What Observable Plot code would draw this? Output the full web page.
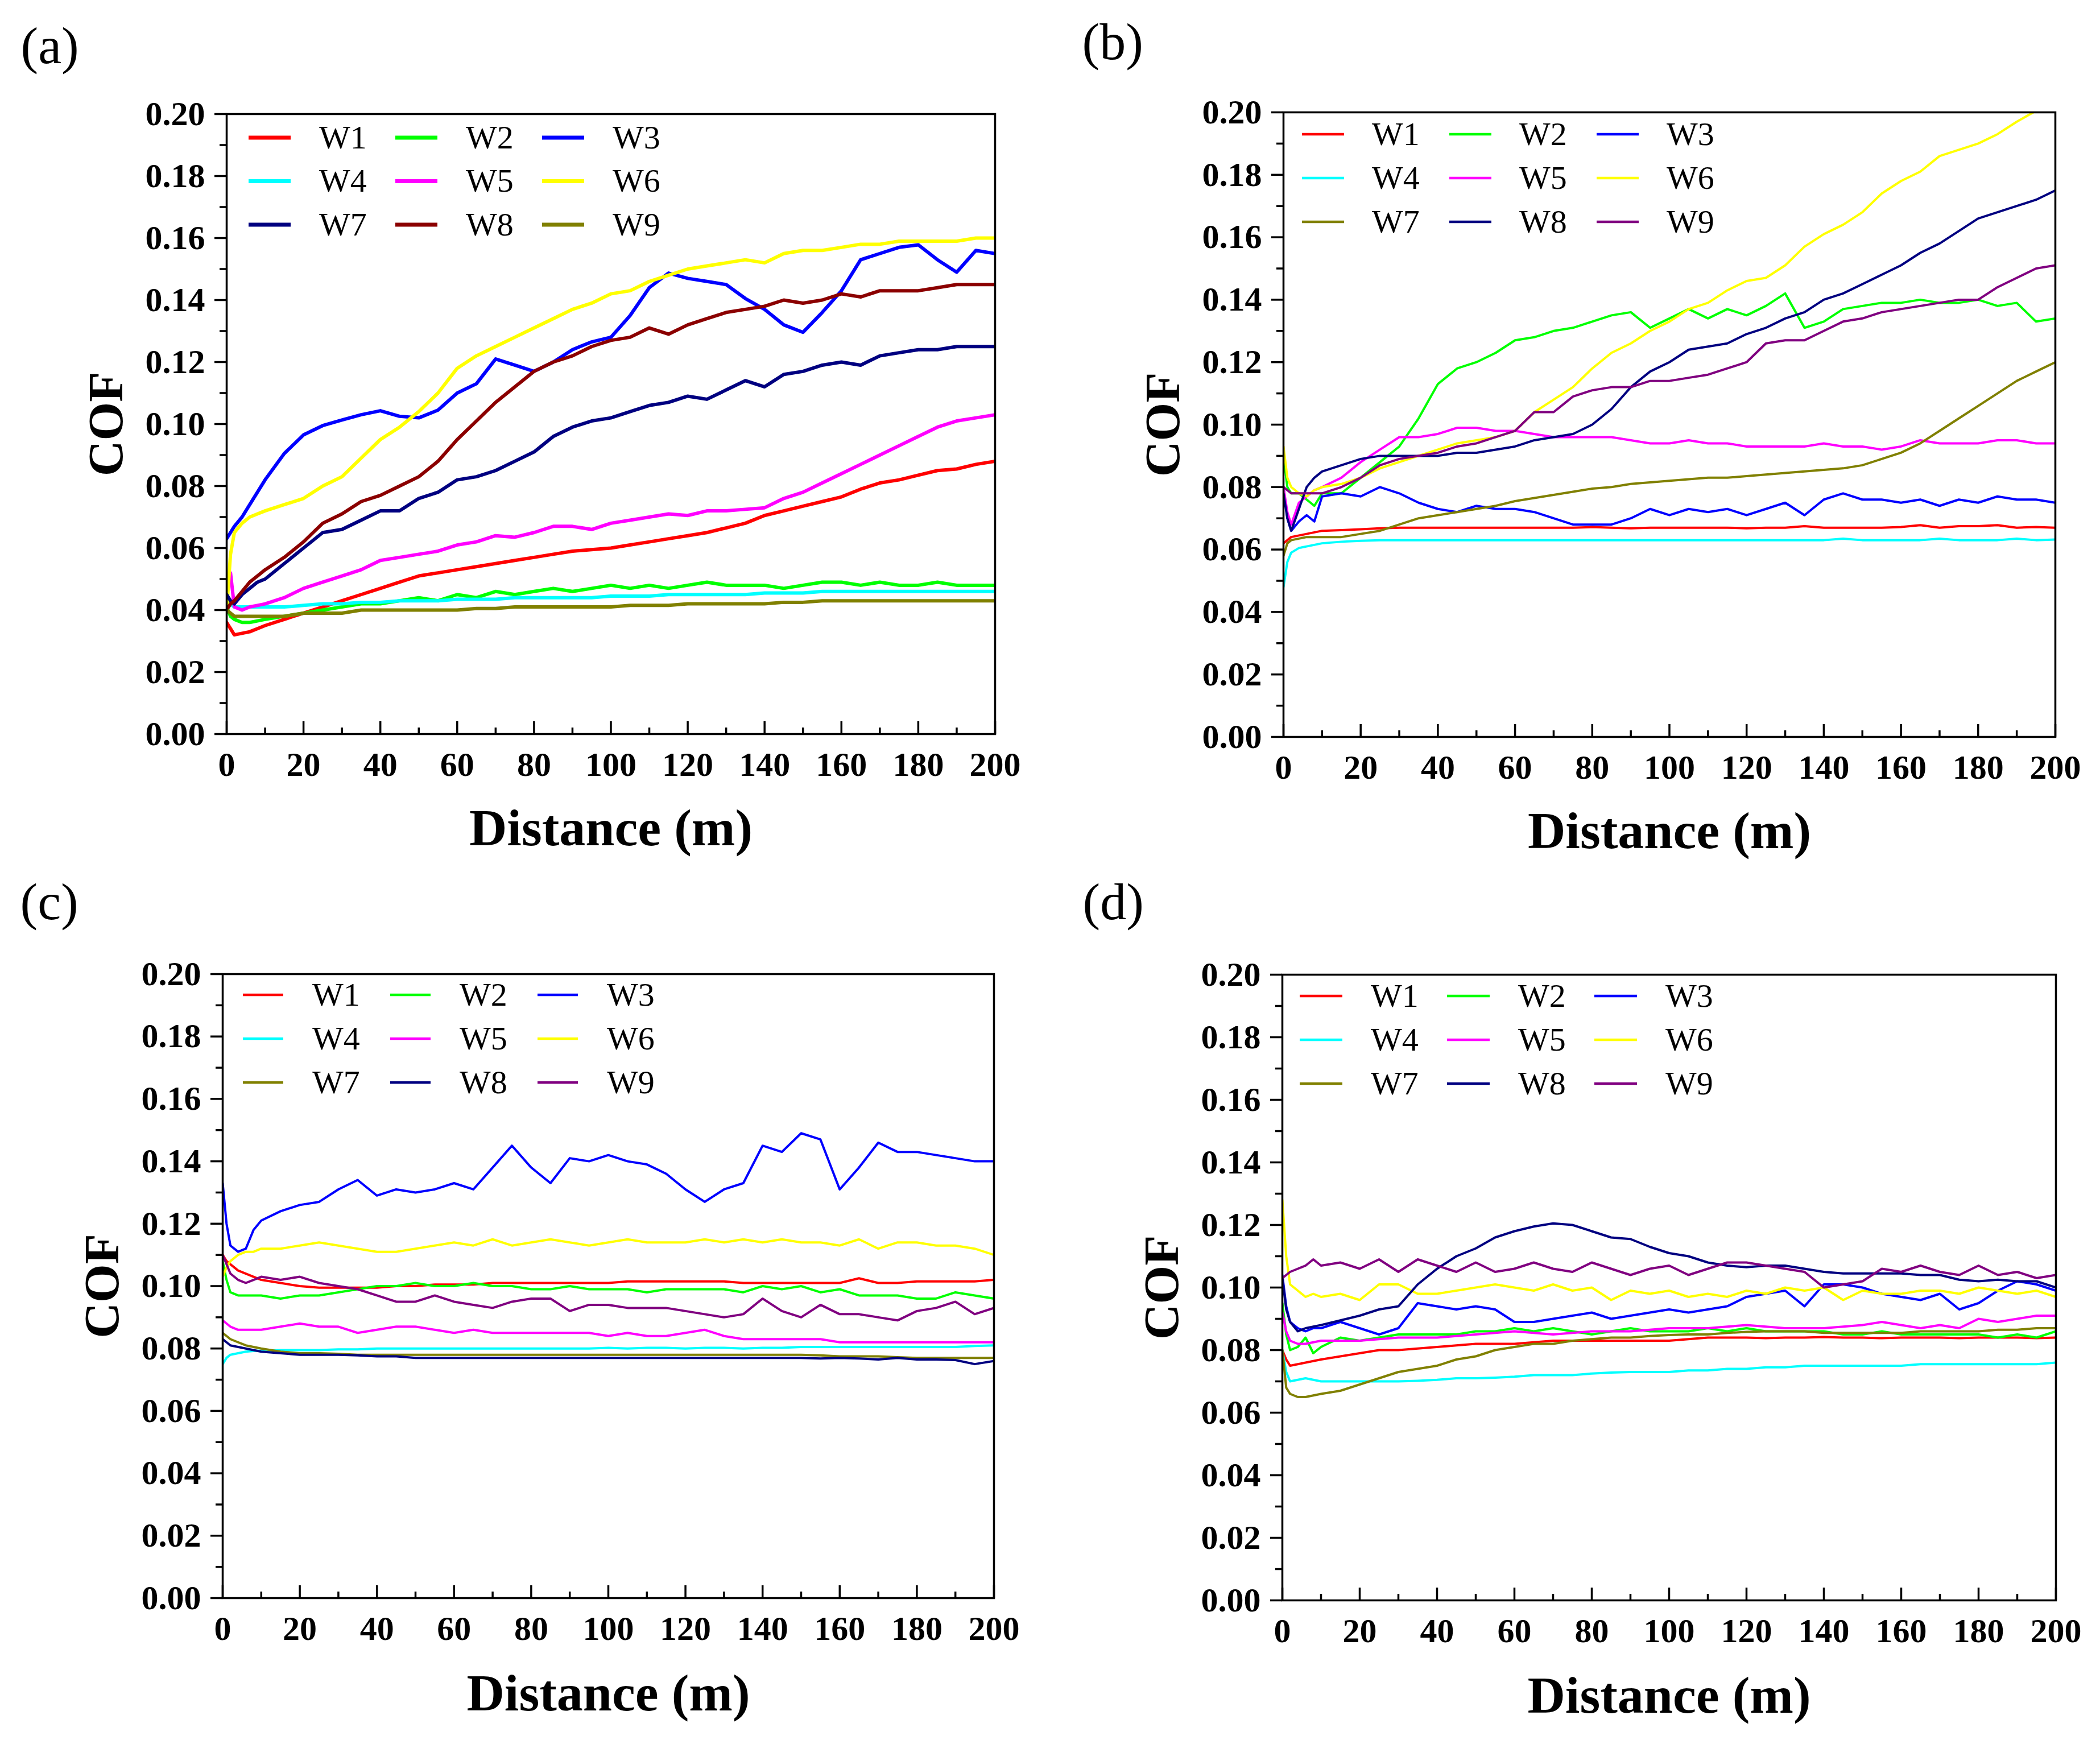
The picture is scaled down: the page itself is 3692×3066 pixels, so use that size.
<!DOCTYPE html>
<html>
<head>
<meta charset="utf-8">
<script src="https://cdn.jsdelivr.net/npm/d3@7"></script>
<script src="https://cdn.jsdelivr.net/npm/@observablehq/plot@0.6"></script>
<style>
  html, body { margin: 0; padding: 0; background: #fff; }
  body { width: 3692px; height: 3066px; position: relative; overflow: hidden; }
  .panel { position: absolute; }
</style>
</head>
<body>
<script>
// ---------------- data ----------------
const distance = [0,1,2,4,6,8,10,
  15,20,25,30,35,40,45,50,55,60,
  65,70,75,80,85,90,95,100,105,110,
  115,120,125,130,135,140,145,150,155,160,
  165,170,175,180,185,190,195,200];
const seriesNames = ["W1","W2","W3","W4","W5","W6","W7","W8","W9"];
const panelLabels = ["(a)","(b)","(c)","(d)"];
const xTitle = "Distance (m)";
const yTitle = "COF";
const yTicksMajor = [0,0.02,0.04,0.06,0.08,0.10,0.12,0.14,0.16,0.18,0.20];
const yTicksMinor = [0.01,0.03,0.05,0.07,0.09,0.11,0.13,0.15,0.17,0.19];
const xTicksMajor = [0,20,40,60,80,100,120,140,160,180,200];
const xTicksMinor = [10,30,50,70,90,110,130,150,170,190];
const coloursA = ["#ff0000","#00ff00","#0000ff","#00ffff","#ff00ff","#ffff00","#000080","#8b0000","#808000"];
const coloursBCD = ["#ff0000","#00ff00","#0000ff","#00ffff","#ff00ff","#ffff00","#808000","#000080","#800080"];

// panel (a)
const cofA_W1 = [0.036,0.034,0.032,0.0325,0.033,0.034,0.035,
  0.037,0.039,0.041,0.043,0.045,0.047,0.049,0.051,0.052,0.053,
  0.054,0.055,0.056,0.057,0.058,0.059,0.0595,0.060,0.061,0.062,
  0.063,0.064,0.065,0.0665,0.068,0.0705,0.072,0.0735,0.075,0.0765,
  0.079,0.081,0.082,0.0835,0.085,0.0855,0.087,0.088];
const cofA_W2 = [0.041,0.038,0.037,0.036,0.036,0.0365,0.037,
  0.038,0.039,0.040,0.041,0.042,0.042,0.043,0.044,0.043,0.045,
  0.044,0.046,0.045,0.046,0.047,0.046,0.047,0.048,0.047,0.048,
  0.047,0.048,0.049,0.048,0.048,0.048,0.047,0.048,0.049,0.049,
  0.048,0.049,0.048,0.048,0.049,0.048,0.048,0.048];
const cofA_W3 = [0.063,0.065,0.067,0.070,0.074,0.078,0.082,
  0.0905,0.0965,0.0995,0.1013,0.103,0.1043,0.1025,0.102,0.1045,0.110,
  0.113,0.121,0.119,0.117,0.120,0.124,0.1265,0.128,0.135,0.144,
  0.1487,0.147,0.146,0.145,0.1405,0.137,0.132,0.1296,0.136,0.143,
  0.153,0.155,0.157,0.1578,0.153,0.149,0.156,0.155];
const cofA_W4 = [0.045,0.042,0.041,0.041,0.041,0.041,0.041,
  0.041,0.0415,0.042,0.042,0.0425,0.0425,0.043,0.043,0.043,0.0435,
  0.0435,0.0435,0.044,0.044,0.044,0.044,0.044,0.0445,0.0445,0.0445,
  0.045,0.045,0.045,0.045,0.045,0.0455,0.0455,0.0455,0.046,0.046,
  0.046,0.046,0.046,0.046,0.046,0.046,0.046,0.046];
const cofA_W5 = [0.046,0.052,0.041,0.040,0.041,0.0415,0.042,
  0.044,0.047,0.049,0.051,0.053,0.056,0.057,0.058,0.059,0.061,
  0.062,0.064,0.0635,0.065,0.067,0.067,0.066,0.068,0.069,0.070,
  0.071,0.0705,0.072,0.072,0.0725,0.073,0.076,0.078,0.081,0.084,
  0.087,0.090,0.093,0.096,0.099,0.101,0.102,0.103];
const cofA_W6 = [0.040,0.058,0.065,0.068,0.070,0.071,0.072,
  0.074,0.076,0.080,0.083,0.089,0.095,0.099,0.104,0.110,0.118,
  0.122,0.125,0.128,0.131,0.134,0.137,0.139,0.142,0.143,0.146,
  0.148,0.150,0.151,0.152,0.153,0.152,0.155,0.156,0.156,0.157,
  0.158,0.158,0.159,0.159,0.159,0.159,0.160,0.160];
const cofA_W7 = [0.045,0.043,0.042,0.045,0.047,0.049,0.050,
  0.055,0.060,0.065,0.066,0.069,0.072,0.072,0.076,0.078,0.082,
  0.083,0.085,0.088,0.091,0.096,0.099,0.101,0.102,0.104,0.106,
  0.107,0.109,0.108,0.111,0.114,0.112,0.116,0.117,0.119,0.120,
  0.119,0.122,0.123,0.124,0.124,0.125,0.125,0.125];
const cofA_W8 = [0.040,0.042,0.043,0.046,0.049,0.051,0.053,
  0.057,0.062,0.068,0.071,0.075,0.077,0.080,0.083,0.088,0.095,
  0.101,0.107,0.112,0.117,0.120,0.122,0.125,0.127,0.128,0.131,
  0.129,0.132,0.134,0.136,0.137,0.138,0.140,0.139,0.140,0.142,
  0.141,0.143,0.143,0.143,0.144,0.145,0.145,0.145];
const cofA_W9 = [0.040,0.039,0.038,0.038,0.038,0.038,0.038,
  0.038,0.039,0.039,0.039,0.040,0.040,0.040,0.040,0.040,0.040,
  0.0405,0.0405,0.041,0.041,0.041,0.041,0.041,0.041,0.0415,0.0415,
  0.0415,0.042,0.042,0.042,0.042,0.042,0.0425,0.0425,0.043,0.043,
  0.043,0.043,0.043,0.043,0.043,0.043,0.043,0.043];

// panel (b)
const cofB_W1 = [0.062,0.063,0.064,0.0645,0.065,0.0655,0.066,
  0.0662,0.0665,0.0668,0.067,0.067,0.067,0.067,0.067,0.067,0.067,
  0.067,0.067,0.067,0.0672,0.067,0.0668,0.067,0.067,0.067,0.067,
  0.067,0.0668,0.067,0.067,0.0675,0.067,0.067,0.067,0.067,0.0672,
  0.0678,0.067,0.0675,0.0675,0.0678,0.067,0.0672,0.067];
const cofB_W2 = [0.090,0.080,0.078,0.078,0.076,0.074,0.078,
  0.078,0.083,0.088,0.093,0.102,0.113,0.118,0.120,0.123,0.127,
  0.128,0.130,0.131,0.133,0.135,0.136,0.131,0.134,0.137,0.134,
  0.137,0.135,0.138,0.142,0.131,0.133,0.137,0.138,0.139,0.139,
  0.140,0.139,0.139,0.140,0.138,0.139,0.133,0.134];
const cofB_W3 = [0.080,0.070,0.066,0.069,0.071,0.069,0.077,
  0.078,0.077,0.080,0.078,0.075,0.073,0.072,0.074,0.073,0.073,
  0.072,0.070,0.068,0.068,0.068,0.070,0.073,0.071,0.073,0.072,
  0.073,0.071,0.073,0.075,0.071,0.076,0.078,0.076,0.076,0.075,
  0.076,0.074,0.076,0.075,0.077,0.076,0.076,0.075];
const cofB_W4 = [0.048,0.056,0.059,0.0605,0.061,0.0615,0.062,
  0.0625,0.0628,0.063,0.063,0.063,0.063,0.063,0.063,0.063,0.063,
  0.063,0.063,0.063,0.063,0.063,0.063,0.063,0.063,0.063,0.063,
  0.063,0.063,0.063,0.063,0.063,0.063,0.0635,0.063,0.063,0.063,
  0.063,0.0635,0.063,0.063,0.063,0.0635,0.063,0.0632];
const cofB_W5 = [0.080,0.072,0.068,0.075,0.077,0.079,0.080,
  0.083,0.088,0.092,0.096,0.096,0.097,0.099,0.099,0.098,0.098,
  0.097,0.096,0.096,0.096,0.096,0.095,0.094,0.094,0.095,0.094,
  0.094,0.093,0.093,0.093,0.093,0.094,0.093,0.093,0.092,0.093,
  0.095,0.094,0.094,0.094,0.095,0.095,0.094,0.094];
const cofB_W6 = [0.093,0.083,0.080,0.078,0.077,0.079,0.080,
  0.081,0.083,0.086,0.088,0.090,0.092,0.094,0.095,0.096,0.098,
  0.104,0.108,0.112,0.118,0.123,0.126,0.130,0.133,0.137,0.139,
  0.143,0.146,0.147,0.151,0.157,0.161,0.164,0.168,0.174,0.178,
  0.181,0.186,0.188,0.190,0.193,0.197,0.2005,0.206];
const cofB_W7 = [0.058,0.062,0.063,0.0635,0.064,0.064,0.064,
  0.064,0.065,0.066,0.068,0.070,0.071,0.072,0.073,0.074,0.0755,
  0.0765,0.0775,0.0785,0.0795,0.080,0.081,0.0815,0.082,0.0825,0.083,
  0.083,0.0835,0.084,0.0845,0.085,0.0855,0.086,0.087,0.089,0.091,
  0.094,0.098,0.102,0.106,0.110,0.114,0.117,0.120];
const cofB_W8 = [0.078,0.070,0.066,0.073,0.080,0.083,0.085,
  0.087,0.089,0.090,0.090,0.090,0.090,0.091,0.091,0.092,0.093,
  0.095,0.096,0.097,0.100,0.105,0.112,0.117,0.120,0.124,0.125,
  0.126,0.129,0.131,0.134,0.136,0.140,0.142,0.145,0.148,0.151,
  0.155,0.158,0.162,0.166,0.168,0.170,0.172,0.175];
const cofB_W9 = [0.080,0.079,0.078,0.078,0.078,0.078,0.078,
  0.080,0.083,0.087,0.089,0.090,0.091,0.093,0.094,0.096,0.098,
  0.104,0.104,0.109,0.111,0.112,0.112,0.114,0.114,0.115,0.116,
  0.118,0.120,0.126,0.127,0.127,0.130,0.133,0.134,0.136,0.137,
  0.138,0.139,0.140,0.140,0.144,0.147,0.150,0.151];

// panel (c)
const cofC_W1 = [0.110,0.108,0.107,0.105,0.104,0.103,0.102,
  0.101,0.100,0.0995,0.0995,0.0995,0.0995,0.100,0.100,0.1005,0.1005,
  0.1005,0.101,0.101,0.101,0.101,0.101,0.101,0.101,0.1015,0.1015,
  0.1015,0.1015,0.1015,0.1015,0.101,0.101,0.101,0.101,0.101,0.101,
  0.1025,0.101,0.101,0.1015,0.1015,0.1015,0.1015,0.102];
const cofC_W2 = [0.108,0.102,0.098,0.097,0.097,0.097,0.097,
  0.096,0.097,0.097,0.098,0.099,0.100,0.100,0.101,0.100,0.100,
  0.101,0.100,0.100,0.099,0.099,0.100,0.099,0.099,0.099,0.098,
  0.099,0.099,0.099,0.099,0.098,0.100,0.099,0.100,0.098,0.099,
  0.097,0.097,0.097,0.096,0.096,0.098,0.097,0.096];
const cofC_W3 = [0.133,0.120,0.113,0.111,0.112,0.118,0.121,
  0.124,0.126,0.127,0.131,0.134,0.129,0.131,0.130,0.131,0.133,
  0.131,0.138,0.145,0.138,0.133,0.141,0.140,0.142,0.140,0.139,
  0.136,0.131,0.127,0.131,0.133,0.145,0.143,0.149,0.147,0.131,
  0.138,0.146,0.143,0.143,0.142,0.141,0.140,0.140];
const cofC_W4 = [0.075,0.077,0.078,0.0785,0.079,0.0792,0.0793,
  0.0795,0.0795,0.0795,0.0797,0.0797,0.080,0.080,0.080,0.080,0.080,
  0.080,0.080,0.080,0.080,0.080,0.080,0.080,0.0802,0.080,0.0802,
  0.0802,0.080,0.0802,0.0802,0.080,0.0802,0.0802,0.0805,0.0805,0.0805,
  0.0805,0.0805,0.0805,0.0805,0.0805,0.0805,0.0808,0.081];
const cofC_W5 = [0.089,0.088,0.087,0.086,0.086,0.086,0.086,
  0.087,0.088,0.087,0.087,0.085,0.086,0.087,0.087,0.086,0.085,
  0.086,0.085,0.085,0.085,0.085,0.085,0.085,0.084,0.085,0.084,
  0.084,0.085,0.086,0.084,0.083,0.083,0.083,0.083,0.083,0.082,
  0.082,0.082,0.082,0.082,0.082,0.082,0.082,0.082];
const cofC_W6 = [0.103,0.106,0.108,0.110,0.111,0.111,0.112,
  0.112,0.113,0.114,0.113,0.112,0.111,0.111,0.112,0.113,0.114,
  0.113,0.115,0.113,0.114,0.115,0.114,0.113,0.114,0.115,0.114,
  0.114,0.114,0.115,0.114,0.115,0.114,0.115,0.114,0.114,0.113,
  0.115,0.112,0.114,0.114,0.113,0.113,0.112,0.110];
const cofC_W7 = [0.085,0.084,0.083,0.082,0.081,0.0805,0.080,
  0.079,0.0785,0.0785,0.0783,0.078,0.078,0.078,0.078,0.078,0.078,
  0.078,0.078,0.078,0.078,0.078,0.078,0.078,0.078,0.078,0.078,
  0.078,0.078,0.078,0.078,0.078,0.078,0.078,0.078,0.0778,0.0775,
  0.0775,0.0775,0.0772,0.077,0.077,0.077,0.077,0.077];
const cofC_W8 = [0.083,0.082,0.081,0.0805,0.080,0.0795,0.079,
  0.0785,0.078,0.078,0.078,0.0778,0.0775,0.0775,0.077,0.077,0.077,
  0.077,0.077,0.077,0.077,0.077,0.077,0.077,0.077,0.077,0.077,
  0.077,0.077,0.077,0.077,0.077,0.077,0.077,0.077,0.0768,0.077,
  0.0768,0.0765,0.077,0.0765,0.0765,0.0763,0.075,0.076];
const cofC_W9 = [0.110,0.107,0.104,0.102,0.101,0.102,0.103,
  0.102,0.103,0.101,0.100,0.099,0.097,0.095,0.095,0.097,0.095,
  0.094,0.093,0.095,0.096,0.096,0.092,0.094,0.094,0.093,0.093,
  0.093,0.092,0.091,0.090,0.091,0.096,0.092,0.090,0.094,0.091,
  0.091,0.090,0.089,0.092,0.093,0.095,0.091,0.093];

// panel (d)
const cofD_W1 = [0.080,0.077,0.075,0.0755,0.076,0.0765,0.077,
  0.078,0.079,0.080,0.080,0.0805,0.081,0.0815,0.082,0.082,0.082,
  0.0825,0.083,0.083,0.083,0.083,0.083,0.083,0.083,0.0835,0.084,
  0.084,0.084,0.0838,0.084,0.084,0.0842,0.084,0.084,0.0838,0.084,
  0.084,0.084,0.0838,0.084,0.084,0.084,0.0838,0.084];
const cofD_W2 = [0.095,0.085,0.080,0.081,0.084,0.079,0.081,
  0.084,0.083,0.084,0.085,0.085,0.085,0.085,0.086,0.086,0.087,
  0.086,0.087,0.086,0.085,0.086,0.087,0.086,0.086,0.086,0.087,
  0.086,0.087,0.086,0.086,0.086,0.086,0.085,0.085,0.086,0.085,
  0.085,0.085,0.085,0.085,0.084,0.085,0.084,0.086];
const cofD_W3 = [0.104,0.094,0.089,0.087,0.086,0.087,0.087,
  0.089,0.087,0.085,0.087,0.095,0.094,0.093,0.094,0.093,0.089,
  0.089,0.090,0.091,0.092,0.090,0.091,0.092,0.093,0.092,0.093,
  0.094,0.097,0.098,0.099,0.094,0.101,0.101,0.100,0.098,0.097,
  0.096,0.098,0.093,0.095,0.099,0.102,0.101,0.099];
const cofD_W4 = [0.080,0.073,0.070,0.0705,0.071,0.0705,0.070,
  0.070,0.070,0.070,0.070,0.0702,0.0705,0.071,0.071,0.0712,0.0715,
  0.072,0.072,0.072,0.0725,0.0728,0.073,0.073,0.073,0.0735,0.0735,
  0.074,0.074,0.0745,0.0745,0.075,0.075,0.075,0.075,0.075,0.075,
  0.0755,0.0755,0.0755,0.0755,0.0755,0.0755,0.0755,0.076];
const cofD_W5 = [0.092,0.086,0.083,0.082,0.082,0.0825,0.083,
  0.083,0.083,0.0835,0.084,0.084,0.084,0.0845,0.085,0.0855,0.086,
  0.0855,0.085,0.0855,0.086,0.086,0.086,0.0865,0.087,0.087,0.087,
  0.0875,0.088,0.0875,0.087,0.087,0.087,0.0875,0.088,0.089,0.088,
  0.087,0.088,0.087,0.090,0.089,0.090,0.091,0.091];
const cofD_W6 = [0.128,0.110,0.101,0.099,0.097,0.098,0.097,
  0.098,0.096,0.101,0.101,0.098,0.098,0.099,0.100,0.101,0.100,
  0.099,0.101,0.099,0.100,0.096,0.099,0.098,0.099,0.097,0.098,
  0.097,0.099,0.098,0.100,0.099,0.100,0.096,0.099,0.098,0.098,
  0.099,0.099,0.098,0.100,0.099,0.098,0.099,0.097];
const cofD_W7 = [0.080,0.068,0.066,0.065,0.065,0.0655,0.066,
  0.067,0.069,0.071,0.073,0.074,0.075,0.077,0.078,0.080,0.081,
  0.082,0.082,0.083,0.0835,0.084,0.084,0.0845,0.0848,0.085,0.085,
  0.0855,0.0858,0.086,0.086,0.086,0.0855,0.0855,0.0855,0.0855,0.0855,
  0.086,0.086,0.086,0.086,0.0865,0.0865,0.087,0.087];
const cofD_W8 = [0.103,0.093,0.089,0.086,0.087,0.0875,0.088,
  0.0895,0.091,0.093,0.094,0.101,0.106,0.110,0.1125,0.116,0.118,
  0.1195,0.1205,0.120,0.118,0.116,0.1155,0.113,0.111,0.110,0.108,
  0.107,0.1065,0.107,0.107,0.106,0.105,0.1045,0.1045,0.1045,0.1045,
  0.104,0.104,0.1025,0.102,0.1025,0.102,0.102,0.100];
const cofD_W9 = [0.103,0.104,0.105,0.106,0.107,0.109,0.107,
  0.108,0.106,0.109,0.105,0.109,0.107,0.105,0.108,0.105,0.106,
  0.108,0.106,0.105,0.108,0.106,0.104,0.106,0.107,0.104,0.106,
  0.108,0.108,0.107,0.106,0.105,0.100,0.101,0.102,0.106,0.105,
  0.107,0.105,0.104,0.107,0.104,0.105,0.103,0.104];

const seriesA = [cofA_W1,cofA_W2,cofA_W3,cofA_W4,cofA_W5,cofA_W6,cofA_W7,cofA_W8,cofA_W9];
const seriesB = [cofB_W1,cofB_W2,cofB_W3,cofB_W4,cofB_W5,cofB_W6,cofB_W7,cofB_W8,cofB_W9];
const seriesC = [cofC_W1,cofC_W2,cofC_W3,cofC_W4,cofC_W5,cofC_W6,cofC_W7,cofC_W8,cofC_W9];
const seriesD = [cofD_W1,cofD_W2,cofD_W3,cofD_W4,cofD_W5,cofD_W6,cofD_W7,cofD_W8,cofD_W9];

// ---------------- layout ----------------
const layouts = [
  {left: 0,    top: 0,    ml: 398, mr: 97, mt: 200, mb: 243, lw: 6,   labDx: -362, labDy: -119, titleDy: 166,
   leg: {x0: 39, len: 74, tx: 124, dx: 258, y0: 42, dy: 76.5, sw: 7}},
  {left: 1846, top: 0,    ml: 410, mr: 79, mt: 197, mb: 238, lw: 4,   labDx: -354, labDy: -123, titleDy: 166,
   leg: {x0: 33, len: 74, tx: 123, dx: 259, y0: 39, dy: 77, sw: 4.5}},
  {left: 0,    top: 1533, ml: 391, mr: 99, mt: 179, mb: 257, lw: 4,   labDx: -356, labDy: -126, titleDy: 168,
   leg: {x0: 36, len: 71, tx: 122, dx: 259, y0: 37, dy: 77, sw: 4.5}},
  {left: 1846, top: 1533, ml: 408, mr: 78, mt: 180, mb: 253, lw: 4,   labDx: -351, labDy: -127, titleDy: 168,
   leg: {x0: 31, len: 75, tx: 125, dx: 259, y0: 38, dy: 77, sw: 4.5}}
];
const W = 1846, H = 1533;
const FONT = "'Liberation Serif', 'Times New Roman', Times, serif";

function legendMark(leg, colours) {
  return (index, scales, values, dims) => {
    const g = d3.create("svg:g")
      .attr("font-weight", "normal")
      .attr("font-size", 58)
      .attr("font-family", FONT);
    seriesNames.forEach((name, i) => {
      const col = i % 3, row = Math.floor(i / 3);
      const x0 = dims.marginLeft + leg.x0 + col * leg.dx;
      const y0 = dims.marginTop + leg.y0 + row * leg.dy;
      g.append("line")
        .attr("x1", x0).attr("x2", x0 + leg.len)
        .attr("y1", y0).attr("y2", y0)
        .attr("stroke", colours[i]).attr("stroke-width", leg.sw);
      g.append("text")
        .attr("x", x0 + leg.tx).attr("y", y0).attr("dy", "0.32em")
        .attr("text-anchor", "start").attr("fill", "black")
        .text(name);
    });
    return g.node();
  };
}

function makePanel(k, series, colours) {
  const L = layouts[k];
  const rows = [];
  series.forEach((arr, s) => arr.forEach((v, i) => rows.push({distance: distance[i], cof: v, series: seriesNames[s]})));
  const plotH = H - L.mt - L.mb;
  const majLen = 22 / plotH * 0.2, minLen = 11 / plotH * 0.2;
  const chart = Plot.plot({
    width: W, height: H,
    marginLeft: L.ml, marginRight: L.mr, marginTop: L.mt, marginBottom: L.mb,
    x: {domain: [0, 200], label: null},
    y: {domain: [0, 0.2], label: null},
    color: {domain: seriesNames, range: colours},
    style: {fontFamily: FONT, fontSize: "60px", fontWeight: "bold", color: "black", background: "white", maxWidth: "none"},
    marks: [
      Plot.line(rows, {x: "distance", y: "cof", z: "series", stroke: "series", strokeWidth: L.lw, strokeLinejoin: "round", clip: true}),
      Plot.ruleX(xTicksMajor, {x: d => d, y1: 0, y2: majLen, strokeWidth: 3.5}),
      Plot.ruleX(xTicksMinor, {x: d => d, y1: 0, y2: minLen, strokeWidth: 3.5}),
      Plot.axisY({ticks: yTicksMajor, tickSize: 21, tickPadding: 17, tickFormat: d3.format(".2f"), label: null,
        strokeWidth: 3.5, fontFamily: FONT, fontSize: 60, fontWeight: "bold"}),
      Plot.axisY({ticks: yTicksMinor, tickSize: 12, tickFormat: () => "", label: null, strokeWidth: 3.5}),
      Plot.axisX({ticks: xTicksMajor, tickSize: 0, tickPadding: 31, tickFormat: d3.format("d"), label: null,
        fontFamily: FONT, fontSize: 60, fontWeight: "bold"}),
      Plot.frame({strokeWidth: 3.5}),
      legendMark(L.leg, colours),
      Plot.text([panelLabels[k]], {text: d => d, frameAnchor: "top-left", dx: L.labDx, dy: L.labDy,
        textAnchor: "start", lineAnchor: "middle", fontFamily: FONT, fontSize: 92, fontWeight: "normal"}),
      Plot.text([yTitle], {text: d => d, frameAnchor: "left", dx: -211, rotate: -90,
        textAnchor: "middle", lineAnchor: "middle", fontFamily: FONT, fontSize: 87, fontWeight: "bold"}),
      Plot.text([xTitle], {text: d => d, frameAnchor: "bottom", dy: L.titleDy,
        textAnchor: "middle", lineAnchor: "middle", fontFamily: FONT, fontSize: 92, fontWeight: "bold"})
    ]
  });
  const div = document.createElement("div");
  div.className = "panel";
  div.style.left = L.left + "px";
  div.style.top = L.top + "px";
  div.appendChild(chart);
  document.body.appendChild(div);
}

makePanel(0, seriesA, coloursA);
makePanel(1, seriesB, coloursBCD);
makePanel(2, seriesC, coloursBCD);
makePanel(3, seriesD, coloursBCD);
</script>
</body>
</html>
